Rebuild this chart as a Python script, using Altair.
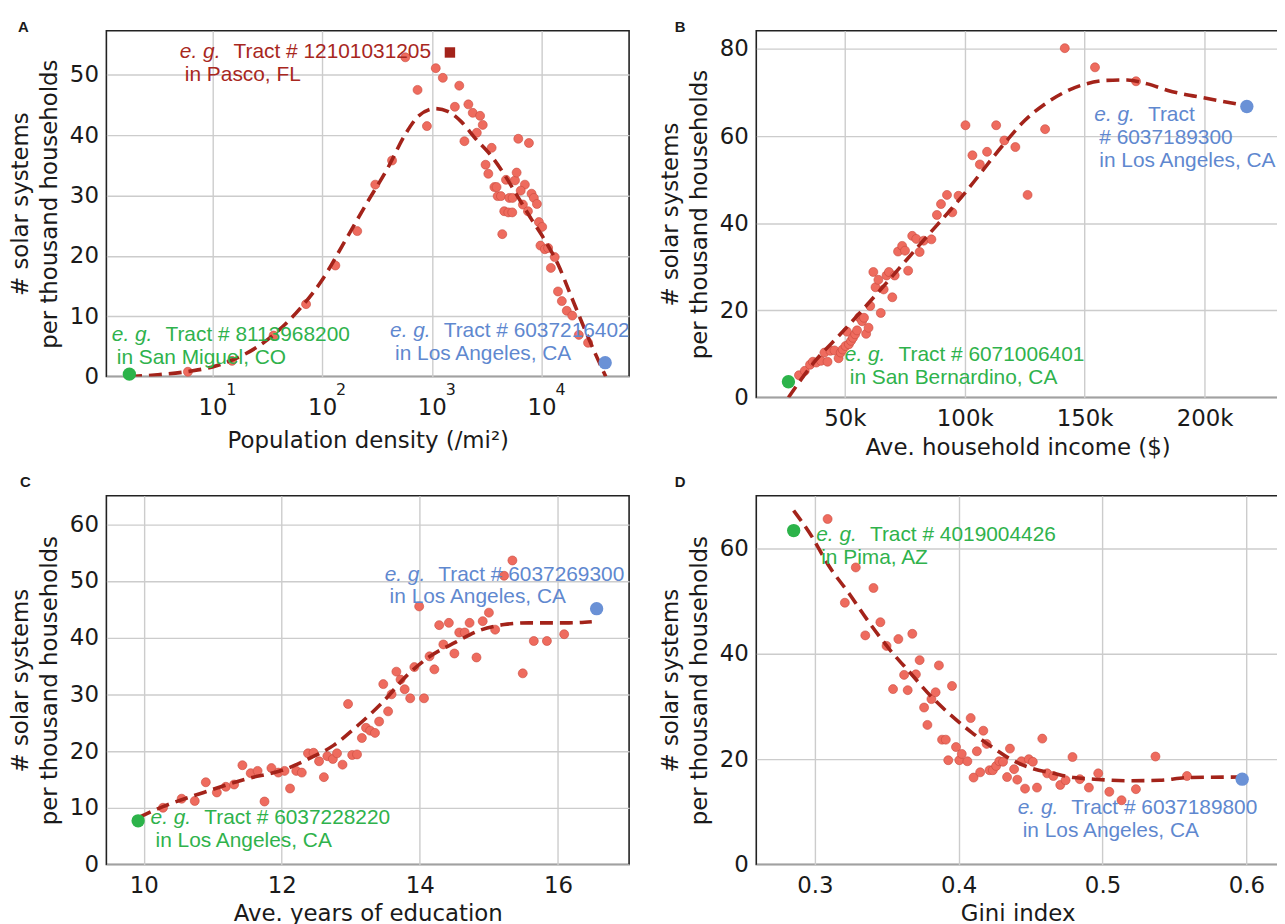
import altair as alt
import pandas as pd

AX_FONT = "DejaVu Sans"
TX_FONT = "Liberation Sans"
RED = "#ee6b5e"
RED_EDGE = "#c94a3f"
DARK = "#a3231a"
GREEN = "#2cb34a"
BLUE = "#6a91d6"
GREEN_T = "#2fb24c"
BLUE_T = "#5f88cf"
RED_T = "#a8271e"
INK = "#1a1a1a"

# ---------------- Panel A: population density ----------------
a_x = [5.98, 15.1, 36.1, 71.4, 132, 209, 305, 434, 573, 741, 902, 1086, 1259, 1778, 1622, 2153, 2360, 2754,
       2911, 1982, 2570, 3508, 3090, 3273, 4742, 5728, 5929, 7047, 3715, 3890, 3981, 4266, 5082, 5445, 6457,
       8110, 8511, 9078, 6761, 7516, 4571, 4977, 5408, 4385, 6138, 7674, 9462, 10139, 9772, 10715, 11482,
       13183, 12162, 14125, 15311, 16982, 19055, 21878, 26546]
a_y = [0.8, 2.6, 6.8, 12.0, 18.4, 24.1, 31.8, 35.8, 52.9, 47.5, 41.5, 51.1, 49.5, 48.2, 44.7, 45.1, 43.7, 43.2,
       41.7, 39.0, 40.4, 37.9, 35.1, 33.6, 32.6, 32.5, 33.8, 31.8, 31.4, 31.4, 29.9, 29.9, 29.6, 29.6, 30.8,
       30.3, 29.6, 28.6, 28.5, 27.4, 27.4, 27.2, 27.2, 23.6, 39.4, 38.7, 25.6, 24.8, 21.7, 21.1, 21.3,
       19.8, 18.0, 14.1, 12.5, 10.9, 10.1, 6.9, 5.6]
a_curve_x = [1.74, 3.16, 6.31, 10, 15.85, 25.1, 39.8, 63.1, 100, 158.5, 251, 398, 575, 759, 1072, 1413, 1862,
             2455, 3508, 4645, 6166, 8128, 10715, 14125, 18621, 24547, 30549, 38459]
a_curve_y = [0.0, 0.3, 0.9, 1.6, 2.9, 4.8, 7.6, 11.3, 16.0, 22.2, 28.5, 34.6, 40.2, 43.2, 44.4, 43.9, 42.2,
             39.6, 36.5, 33.3, 29.6, 26.0, 22.6, 18.6, 13.3, 8.0, 4.0, 0.0]
a_green = (1.75, 0.4)
a_blue = (38020, 2.3)
a_square = (1462, 53.7)
a_ticks = [10, 100, 1000, 10000]
a_exps = ["1", "2", "3", "4"]
a_ann_x = [5.05, 1.21, 416]
a_ann_y = [53.7, 6.9, 7.6]
a_ann_c = [RED_T, GREEN_T, BLUE_T]
a_ann_l1 = ["Tract # 12101031205", "Tract # 8113968200", "Tract # 6037216402"]
a_ann_l2 = ["in Pasco, FL", "in San Miguel, CO", "in Los Angeles, CA"]
a_ann_l3 = ["", "", ""]

# ---------------- Panel B: household income ----------------
b_x = [30900, 33300, 35500, 36700, 38100, 40100, 41500, 42800, 44000, 45700, 47400, 48300, 49100, 50300,
       50900, 51700, 52600, 53400, 54300, 55100, 56000, 57200, 58000, 58900, 59900, 60600, 61900, 62800,
       64000, 65000, 66200, 67400, 68400, 69800, 70800, 72200, 73900, 75100, 76400, 78100, 79800, 81200,
       82900, 86100, 88400, 90100, 92600, 94800, 97400, 100300, 103200, 106300, 109300, 113100, 116500,
       121100, 126200, 133500, 141700, 154300, 171400]
b_y = [5.1, 6.1, 7.5, 8.2, 8.0, 8.4, 10.3, 8.2, 10.7, 10.8, 9.0, 10.3, 11.0, 11.8, 15.1, 12.2, 13.0, 13.7,
       14.5, 15.4, 18.4, 17.5, 18.3, 14.6, 16.0, 21.0, 28.8, 25.3, 27.0, 19.4, 24.8, 28.0, 28.8, 23.0, 28.0,
       33.5, 34.8, 33.7, 29.1, 37.1, 36.4, 33.4, 36.0, 36.3, 41.9, 44.4, 46.5, 42.5, 46.3, 62.5, 55.6, 53.5,
       56.4, 62.5, 59.0, 57.5, 46.5, 61.6, 80.2, 75.8, 72.6]
b_curve_x = [26500, 38000, 48300, 65300, 82400, 99400, 116500, 125000, 133500, 142000, 150600, 159100,
             167700, 176200, 184700, 201700, 215400]
b_curve_y = [0.0, 8.6, 14.6, 25.0, 35.8, 46.5, 58.3, 63.6, 67.4, 70.2, 72.0, 72.8, 72.9, 72.0, 70.5, 68.6, 67.2]
b_green = (26500, 3.6)
b_blue = (217600, 66.8)
b_ticks = [50000, 100000, 150000, 200000]
b_ann_x = [154000, 50000]
b_ann_y = [64.8, 9.75]
b_ann_c = [BLUE_T, GREEN_T]
b_ann_l1 = ["Tract", "Tract # 6071006401"]
b_ann_l2 = ["# 6037189300", "in San Bernardino, CA"]
b_ann_l3 = ["in Los Angeles, CA", ""]

# ---------------- Panel C: education ----------------
c_x = [10.28, 10.55, 10.74, 10.9, 11.06, 11.19, 11.31, 11.43, 11.55, 11.65, 11.75, 11.85, 11.95, 12.04,
       12.12, 12.21, 12.29, 12.38, 12.46, 12.54, 12.61, 12.66, 12.74, 12.8, 12.88, 12.96, 13.02, 13.09,
       13.16, 13.22, 13.28, 13.35, 13.41, 13.47, 13.54, 13.59, 13.66, 13.72, 13.78, 13.86, 13.92, 13.99,
       14.06, 14.14, 14.21, 14.28, 14.34, 14.42, 14.5, 14.57, 14.65, 14.72, 14.82, 14.91, 15.0, 15.09,
       15.22, 15.34, 15.49, 15.65, 15.84, 16.09]
c_y = [10.0, 11.6, 11.2, 14.5, 12.7, 13.7, 14.1, 17.5, 16.1, 16.5, 11.1, 17.0, 16.2, 16.5, 13.4, 16.5,
       16.2, 19.6, 19.7, 18.2, 15.4, 19.1, 18.6, 19.6, 17.6, 28.3, 19.3, 19.4, 22.3, 24.1, 23.6, 23.2, 25.2,
       31.8, 27.0, 30.0, 34.0, 32.6, 30.9, 29.3, 34.8, 45.5, 29.3, 36.7, 34.4, 42.2, 38.8, 42.6, 37.2, 40.9,
       40.9, 42.6, 36.5, 42.9, 44.4, 41.4, 50.9, 53.6, 33.7, 39.4, 39.4, 40.6]
c_curve_x = [9.93, 10.28, 10.87, 11.46, 12.05, 12.4, 12.75, 13.1, 13.46, 13.81, 14.16, 14.52, 14.87, 15.22,
             15.58, 16.16, 16.49]
c_curve_y = [8.3, 10.2, 12.7, 15.0, 16.8, 18.7, 21.0, 24.5, 28.6, 33.3, 36.8, 39.2, 41.3, 42.3, 42.6, 42.6, 42.8]
c_green = (9.92, 7.7)
c_blue = (16.56, 45.1)
c_ticks = [10, 12, 14, 16]
c_ann_x = [13.49, 10.1]
c_ann_y = [51.1, 8.2]
c_ann_c = [BLUE_T, GREEN_T]
c_ann_l1 = ["Tract # 6037269300", "Tract # 6037228220"]
c_ann_l2 = ["in Los Angeles, CA", "in Los Angeles, CA"]
c_ann_l3 = ["", ""]

# ---------------- Panel D: Gini index ----------------
d_x = [0.3088, 0.3208, 0.3284, 0.335, 0.3407, 0.3455, 0.3498, 0.3543, 0.358, 0.362, 0.3645, 0.3677,
       0.3702, 0.3728, 0.3759, 0.3782, 0.381, 0.3839, 0.3862, 0.3884, 0.391, 0.3927, 0.3953, 0.3981,
       0.4004, 0.4021, 0.406, 0.4083, 0.4103, 0.4126, 0.4149, 0.4171, 0.4194, 0.4214, 0.4237, 0.426,
       0.4282, 0.4308, 0.4336, 0.4356, 0.4385, 0.4407, 0.4436, 0.4461, 0.4487, 0.4515, 0.4544, 0.4581,
       0.4615, 0.4658, 0.4706, 0.4743, 0.4791, 0.4842, 0.4905, 0.497, 0.5047, 0.5132, 0.5232, 0.5368, 0.5587]
d_y = [65.6, 49.7, 56.4, 43.5, 52.5, 46.0, 41.5, 33.3, 42.8, 36.0, 33.1, 43.8, 36.1, 38.8, 29.8, 26.5,
       31.4, 32.7, 37.8, 23.7, 23.7, 19.8, 33.9, 22.3, 19.8, 21.0, 19.6, 27.8, 16.5, 21.5, 17.5, 25.4, 22.9,
       17.9, 17.9, 18.7, 19.6, 19.5, 16.6, 22.0, 18.1, 16.1, 19.6, 14.4, 20.0, 19.5, 14.6, 23.9, 17.3, 16.8,
       15.1, 16.0, 20.4, 16.2, 14.6, 17.3, 13.8, 12.2, 14.3, 20.5, 16.8]
d_curve_x = [0.2852, 0.298, 0.3094, 0.3236, 0.3378, 0.352, 0.3662, 0.3805, 0.3947, 0.4089, 0.4231, 0.4373,
             0.4516, 0.4658, 0.48, 0.4942, 0.517, 0.5397, 0.5596, 0.5951]
d_curve_y = [67.2, 62.2, 56.8, 51.5, 45.9, 40.8, 36.4, 32.0, 28.3, 25.1, 22.3, 19.8, 18.2, 17.3, 16.5, 16.2,
             15.9, 16.0, 16.5, 16.6]
d_green = (0.2852, 63.4)
d_blue = (0.5971, 16.2)
d_ticks = [0.3, 0.4, 0.5, 0.6]
d_ann_x = [0.3009, 0.441]
d_ann_y = [62.5, 10.7]
d_ann_c = [GREEN_T, BLUE_T]
d_ann_l1 = ["Tract # 4019004426", "Tract # 6037189800"]
d_ann_l2 = ["in Pima, AZ", "in Los Angeles, CA"]
d_ann_l3 = ["", ""]

Y_TITLE = ["# solar systems", "per thousand households"]


def x_axis(values, title, label_pad, title_pad, label_expr=None, fmt=None):
    kw = dict(values=values, title=title, grid=True, ticks=False, domain=False,
              labelFont=AX_FONT, labelFontSize=23, labelColor=INK, labelPadding=label_pad,
              labelFlush=False, labelOverlap=False,
              titleFont=AX_FONT, titleFontSize=23, titleFontWeight="normal", titleColor=INK,
              titlePadding=title_pad, gridColor="#cccccc", gridWidth=1.4)
    if label_expr:
        kw["labelExpr"] = label_expr
    if fmt:
        kw["format"] = fmt
    return alt.Axis(**kw)


def y_axis(values):
    return alt.Axis(values=values, title=Y_TITLE, grid=True, ticks=False, domain=False,
                    labelFont=AX_FONT, labelFontSize=23, labelColor=INK, labelPadding=8,
                    labelFlush=False, labelOverlap=False,
                    titleFont=AX_FONT, titleFontSize=23, titleFontWeight="normal", titleColor=INK,
                    titlePadding=8, titleLineHeight=29, gridColor="#cccccc", gridWidth=1.4)


def panel(letter, lx, ly, w, h, xscale, yscale, xax, yax, px, py, cx, cy, g, b,
          ann_x, ann_y, ann_c, l1, l2, l3, extra=()):
    def X():
        return alt.X("x:Q", scale=xscale, axis=xax)

    def Y():
        return alt.Y("y:Q", scale=yscale, axis=yax)

    pts = alt.Chart(pd.DataFrame({"x": px, "y": py})).mark_point(
        shape="circle", filled=True, size=82, fill=RED, stroke=RED_EDGE, strokeWidth=0.6, opacity=1
    ).encode(x=X(), y=Y())
    crv = alt.Chart(pd.DataFrame({"x": cx, "y": cy})).mark_line(
        color=DARK, strokeWidth=3.6, strokeDash=[13, 7], interpolate="monotone", clip=True
    ).encode(x=X(), y=Y())
    ends = alt.Chart(pd.DataFrame({"x": [g[0], b[0]], "y": [g[1], b[1]], "c": [GREEN, BLUE]})).mark_point(
        shape="circle", filled=True, size=180, opacity=1, strokeWidth=0
    ).encode(x=X(), y=Y(), color=alt.Color("c:N", scale=None))
    ann = pd.DataFrame({"x": ann_x, "y": ann_y, "c": ann_c, "l1": l1, "l2": l2, "l3": l3})
    base = alt.Chart(ann)
    tkw = dict(align="left", baseline="middle", font=TX_FONT, fontSize=21)
    eg = base.mark_text(fontStyle="italic", **tkw).encode(
        x=X(), y=Y(), text=alt.value("e. g."), color=alt.Color("c:N", scale=None))
    t1 = base.mark_text(dx=54, **tkw).encode(x=X(), y=Y(), text="l1:N", color=alt.Color("c:N", scale=None))
    t2 = base.mark_text(dx=5, dy=23, **tkw).encode(x=X(), y=Y(), text="l2:N", color=alt.Color("c:N", scale=None))
    t3 = base.mark_text(dx=5, dy=46, **tkw).encode(x=X(), y=Y(), text="l3:N", color=alt.Color("c:N", scale=None))
    lab = alt.Chart(pd.DataFrame({"t": [letter]})).mark_text(
        align="left", baseline="alphabetic", font=TX_FONT, fontSize=15, fontWeight="bold", color=INK
    ).encode(x=alt.value(lx), y=alt.value(ly), text="t:N")
    layers = [pts, crv, ends] + [e(X, Y) for e in extra] + [eg, t1, t2, t3, lab]
    return alt.layer(*layers).properties(width=w, height=h)


# ---- scales / axes
A_W, A_H = 526, 348
B_W, B_H = 526, 369
C_W, C_H = 526, 371
D_W, D_H = 526, 371

xA = alt.Scale(type="log", domain=[1.08, 62800], nice=False)
yA = alt.Scale(domain=[0, 57.3], nice=False, zero=False)
xB = alt.Scale(domain=[13100, 231000], nice=False, zero=False)
yB = alt.Scale(domain=[0, 84.2], nice=False, zero=False)
xC = alt.Scale(domain=[9.46, 17.03], nice=False, zero=False)
yC = alt.Scale(domain=[0, 65], nice=False, zero=False)
xD = alt.Scale(domain=[0.2592, 0.6227], nice=False, zero=False)
yD = alt.Scale(domain=[0, 70], nice=False, zero=False)

axA = x_axis(a_ticks, "Population density (/mi²)", 20, 10, label_expr="'10'")
axB = x_axis(b_ticks, "Ave. household income ($)", 10, 6, label_expr="format(datum.value/1000, 'd') + 'k'")
axC = x_axis(c_ticks, "Ave. years of education", 10, 5, fmt="d")
axD = x_axis(d_ticks, "Gini index", 10, 5, fmt=".1f")


def exponents(X, Y):
    return alt.Chart(pd.DataFrame({"x": a_ticks, "e": a_exps})).mark_text(
        align="left", baseline="top", dx=14, font=AX_FONT, fontSize=16, color=INK
    ).encode(x=X(), y=alt.value(A_H + 6), text="e:N")


def square(X, Y):
    return alt.Chart(pd.DataFrame({"x": [a_square[0]], "y": [a_square[1]]})).mark_point(
        shape="square", filled=True, size=110, color=DARK, opacity=1).encode(x=X(), y=Y())


pA = panel("A", -89, 1, A_W, A_H, xA, yA, axA, y_axis([0, 10, 20, 30, 40, 50]),
           a_x, a_y, a_curve_x, a_curve_y, a_green, a_blue,
           a_ann_x, a_ann_y, a_ann_c, a_ann_l1, a_ann_l2, a_ann_l3,
           extra=[exponents, square])
pB = panel("B", -82, 1, B_W, B_H, xB, yB, axB, y_axis([0, 20, 40, 60, 80]),
           b_x, b_y, b_curve_x, b_curve_y, b_green, b_blue,
           b_ann_x, b_ann_y, b_ann_c, b_ann_l1, b_ann_l2, b_ann_l3)
pC = panel("C", -87, -9, C_W, C_H, xC, yC, axC, y_axis([0, 10, 20, 30, 40, 50, 60]),
           c_x, c_y, c_curve_x, c_curve_y, c_green, c_blue,
           c_ann_x, c_ann_y, c_ann_c, c_ann_l1, c_ann_l2, c_ann_l3)
pD = panel("D", -82, -9, D_W, D_H, xD, yD, axD, y_axis([0, 20, 40, 60]),
           d_x, d_y, d_curve_x, d_curve_y, d_green, d_blue,
           d_ann_x, d_ann_y, d_ann_c, d_ann_l1, d_ann_l2, d_ann_l3)

# Frame of panel A at page (107, 28); page margin is 8 px.
chart = alt.concat(pA, pB, pC, pD, columns=2, spacing={"row": 99, "column": 128}, bounds="flush").properties(
    autosize=alt.AutoSizeParams(type="none"),
    padding={"left": 99, "top": 20, "right": 1178, "bottom": 896},
).configure_view(stroke="#222222", strokeWidth=1.6)

chart.save("out.html", embed_options={"renderer": "svg", "actions": False})
